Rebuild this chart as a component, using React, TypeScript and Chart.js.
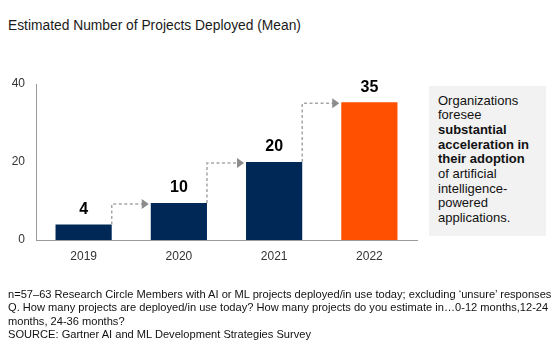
import React, { useEffect, useRef } from "react";
import { Chart, registerables } from "chart.js";

Chart.register(...registerables);

const categories = ["2019", "2020", "2021", "2022"];
const values = [4, 9.5, 20, 35.3];
const valueLabels = ["4", "10", "20", "35"];
const barColors = ["#002856", "#002856", "#002856", "#fe5000"];
const yTicks = [0, 20, 40];

const FONT = "'Liberation Sans', Arial, sans-serif";

const overlayPlugin = {
  id: "overlay",
  afterDatasetsDraw(chart: any) {
    const ctx = chart.ctx;
    const meta = chart.getDatasetMeta(0);
    const yScale = chart.scales.y;
    ctx.save();
    ctx.font = `bold 16px ${FONT}`;
    ctx.fillStyle = "#000";
    ctx.textAlign = "center";
    ctx.textBaseline = "bottom";
    meta.data.forEach((bar: any, i: number) => {
      ctx.fillText(valueLabels[i], bar.x, bar.y - 7);
    });
    for (let i = 0; i < meta.data.length - 1; i++) {
      const a = meta.data[i];
      const b = meta.data[i + 1];
      const ax = a.x + a.width / 2;
      const ay = yScale.getPixelForValue(values[i]);
      const by = yScale.getPixelForValue(values[i + 1]) + 1;
      const bx = b.x - b.width / 2 - 2;
      ctx.strokeStyle = "#a6a6a6";
      ctx.lineWidth = 1.5;
      ctx.setLineDash([3, 2.5]);
      ctx.beginPath();
      ctx.moveTo(ax, ay);
      ctx.lineTo(ax, by);
      ctx.lineTo(bx - 6, by);
      ctx.stroke();
      ctx.setLineDash([]);
      ctx.fillStyle = "#8c8c8c";
      ctx.beginPath();
      ctx.moveTo(bx - 7, by - 5);
      ctx.lineTo(bx, by);
      ctx.lineTo(bx - 7, by + 5);
      ctx.closePath();
      ctx.fill();
    }
    ctx.restore();
  },
};

export default function App() {
  const canvasRef = useRef<HTMLCanvasElement | null>(null);

  useEffect(() => {
    if (!canvasRef.current) return;
    const chart = new Chart(canvasRef.current, {
      type: "bar",
      data: {
        labels: categories,
        datasets: [
          {
            data: values,
            backgroundColor: barColors,
            barPercentage: 1,
            categoryPercentage: 0.59,
          },
        ],
      },
      options: {
        animation: false,
        responsive: false,
        maintainAspectRatio: false,
        layout: { padding: { left: 0, right: 143, top: 84, bottom: 74 } },
        plugins: { legend: { display: false }, tooltip: { enabled: false } },
        scales: {
          x: {
            grid: { display: false, drawTicks: false },
            border: { display: true, color: "#9a9a9a", width: 1 },
            ticks: { color: "#333", font: { family: FONT, size: 12 }, padding: 9 },
            afterFit: (s: any) => {
              s.height = 36;
            },
          },
          y: {
            min: 0,
            max: 40,
            afterBuildTicks: (s: any) => {
              s.ticks = yTicks.map((v) => ({ value: v }));
            },
            grid: { display: false, drawTicks: false },
            border: { display: true, color: "#9a9a9a", width: 1 },
            ticks: { color: "#333", font: { family: FONT, size: 12 }, padding: 11 },
            afterFit: (s: any) => {
              s.width = 36;
            },
          },
        },
      },
      plugins: [overlayPlugin],
    });
    return () => chart.destroy();
  }, []);

  return (
    <div
      style={{
        position: "absolute",
        left: 0,
        top: 0,
        width: 560,
        height: 350,
        background: "#fff",
        fontFamily: FONT,
        overflow: "hidden",
      }}
    >
      <div
        style={{
          position: "absolute",
          left: 8,
          top: 17,
          fontSize: 13.8,
          lineHeight: "18px",
          color: "#1a1a1a",
          whiteSpace: "nowrap",
        }}
      >
        Estimated Number of Projects Deployed (Mean)
      </div>
      <canvas
        ref={canvasRef}
        width={560}
        height={350}
        style={{ position: "absolute", left: 0, top: 0, width: 560, height: 350 }}
      />
      <div
        style={{
          position: "absolute",
          left: 429,
          top: 86,
          width: 117,
          height: 150,
          background: "#f2f2f2",
          boxSizing: "border-box",
          paddingLeft: 9,
          paddingTop: 7.5,
          fontSize: 13,
          lineHeight: "14.7px",
          color: "#111",
          whiteSpace: "nowrap",
        }}
      >
        Organizations
        <br />
        foresee
        <br />
        <b>substantial</b>
        <br />
        <b>acceleration in</b>
        <br />
        <b>their adoption</b>
        <br />
        of artificial
        <br />
        intelligence-
        <br />
        powered
        <br />
        applications.
      </div>
      <div
        style={{
          position: "absolute",
          left: 8,
          top: 288,
          fontSize: 11.1,
          lineHeight: "13.3px",
          color: "#111",
          whiteSpace: "nowrap",
        }}
      >
        n=57–63 Research Circle Members with AI or ML projects deployed/in use today; excluding ‘unsure’ responses
        <br />
        Q. How many projects are deployed/in use today? How many projects do you estimate in…0-12 months,12-24
        <br />
        months, 24-36 months?
        <br />
        SOURCE: Gartner AI and ML Development Strategies Survey
      </div>
    </div>
  );
}
